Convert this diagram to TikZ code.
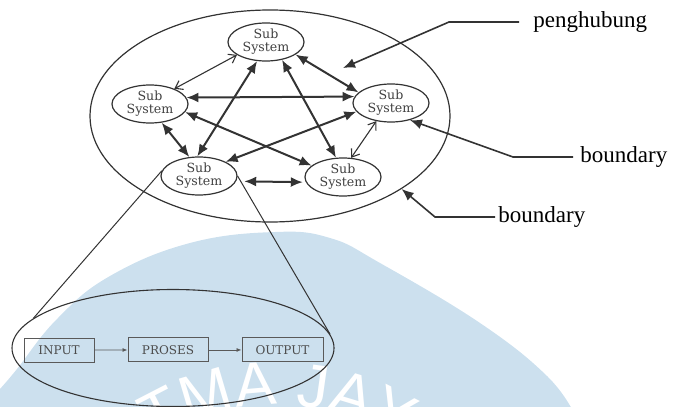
\documentclass[tikz,border=0pt]{standalone}
\usepackage{fontspec}
\setmainfont{Liberation Serif}
\newfontfamily\subfont{DejaVu Serif}
\newfontfamily\wmfont{Liberation Sans}
\usepackage{tikz}
\usetikzlibrary{arrows.meta}
\usetikzlibrary{shapes.geometric}
\usetikzlibrary{matrix}
\usetikzlibrary{decorations.text}
\definecolor{wmblue}{RGB}{204,224,238}
\colorlet{dgray}{black!80}
\colorlet{boxgray}{black!65}
\tikzstyle{subsys}=[ellipse,draw=dgray,line width=.6pt,minimum width=38pt,minimum height=19pt,inner sep=0pt,align=center,font=\subfont\fontsize{6.3}{6.6}\selectfont,text=black!75]
\tikzstyle{bighead}=[>/.tip={Latex[length=6pt,width=5pt]}]
\tikzstyle{openhead}=[>/.tip={Straight Barb[length=3.5pt,width=5pt]}]
\tikzstyle{link}=[line width=1pt,bighead,<->,dgray]
\tikzstyle{thinlink}=[line width=.55pt,openhead,<->,dgray]
\tikzstyle{callout}=[line width=.8pt,bighead,->,dgray]
\tikzstyle{lbl}=[inner sep=0pt,font=\fontsize{11.5}{13}\selectfont]
\tikzstyle{procbox}=[draw=boxgray,line width=.5pt,minimum height=12pt,inner sep=0pt,font=\subfont\fontsize{6}{7}\selectfont,text=black!70]
\tikzstyle{flowarrow}=[line width=.4pt,boxgray,->,>/.tip={Latex[length=2.5pt,width=2pt]}]
\begin{document}
\begin{tikzpicture}[x=.5pt,y=-.5pt]
	\useasboundingbox (0,0) rectangle (673,406);
	% watermark
	\begin{scope}
	  \clip (0,0) rectangle (673,406);
	  \fill[wmblue] plot[smooth,tension=.7] coordinates {(-10,400) (0,389) (17,369) (57,319) (110,276) (190,243) (275,232) (330,238) (380,263) (480,323) (547,376) (575,415)} -- (575,430) -- (-10,430) -- cycle;
	  \path[decorate,decoration={text along path,text align=center,text color=white,text={|\wmfont\fontsize{31}{31}\selectfont|ATMA JAYA}}] (57.2,559.6) arc[start angle=200,end angle=340,radius=235];
	\end{scope}
	% system
	\node[ellipse,draw=dgray,line width=.6pt,minimum width=180pt,minimum height=106pt] (sys) at (270,116) {};
	\node[subsys] (ss1) at (266,42) {Sub\\System};
	\node[subsys] (ss2) at (150,104) {Sub\\System};
	\node[subsys] (ss3) at (391,103) {Sub\\System};
	\node[subsys] (ss4) at (199,176) {Sub\\System};
	\node[subsys] (ss5) at (343,177) {Sub\\System};
	\draw[thinlink] (ss1.204) -- (ss2.32);
	\draw[link] (ss1.337) -- (ss3.162);
	\draw[link] (ss2.10) -- (ss3.170);
	\draw[link] (ss1.245) -- (ss4.95);
	\draw[link] (ss1.312) -- (ss5.110);
	\draw[link] (ss2.302) -- (ss4.117);
	\draw[link] (ss2.347) -- (ss5.160);
	\draw[link] (ss3.194) -- (ss4.28);
	\draw[thinlink] (ss3.231) -- (ss5.67);
	\draw[link,shorten <=4pt,shorten >=1.5pt] (ss4.352) -- (ss5.188);
	% labels
	\node[lbl,anchor=west] (pgh) at (533,22) {penghubung};
	\node[lbl,anchor=west] (bnd1) at (580,157) {boundary};
	\node[lbl,anchor=west] (bnd2) at (498,217) {boundary};
	\coordinate (pghtip) at (343,68);
	\draw[callout] ([xshift=-7pt]pgh.west) -- ([xshift=-42pt]pgh.west) -- (pghtip);
	\draw[callout] ([xshift=-3.5pt]bnd1.west) -- ([xshift=-33.5pt]bnd1.west) -- (ss3.318);
	\draw[callout] ([xshift=-1.5pt]bnd2.west) -- ([xshift=-31.5pt]bnd2.west) -- (sys.331);
	% detail of one sub system
	\node[ellipse,draw=dgray,line width=.55pt,minimum width=161pt,minimum height=58.5pt] (detail) at (173,348) {};
	\draw[dgray,line width=.5pt] (ss4.172) -- (detail.168);
	\draw[dgray,line width=.5pt] (ss4.east) -- (detail.5);
	\matrix (proc) [matrix of nodes,nodes={procbox},column sep=16.5pt,ampersand replacement=\&] at (173.5,350) {
	  |[minimum width=35pt]| INPUT \& |[minimum width=40pt]| PROSES \& |[minimum width=40.5pt]| OUTPUT \\
	};
	\draw[flowarrow] (proc-1-1) -- (proc-1-2);
	\draw[flowarrow] (proc-1-2) -- (proc-1-3);
\end{tikzpicture}
\end{document}
